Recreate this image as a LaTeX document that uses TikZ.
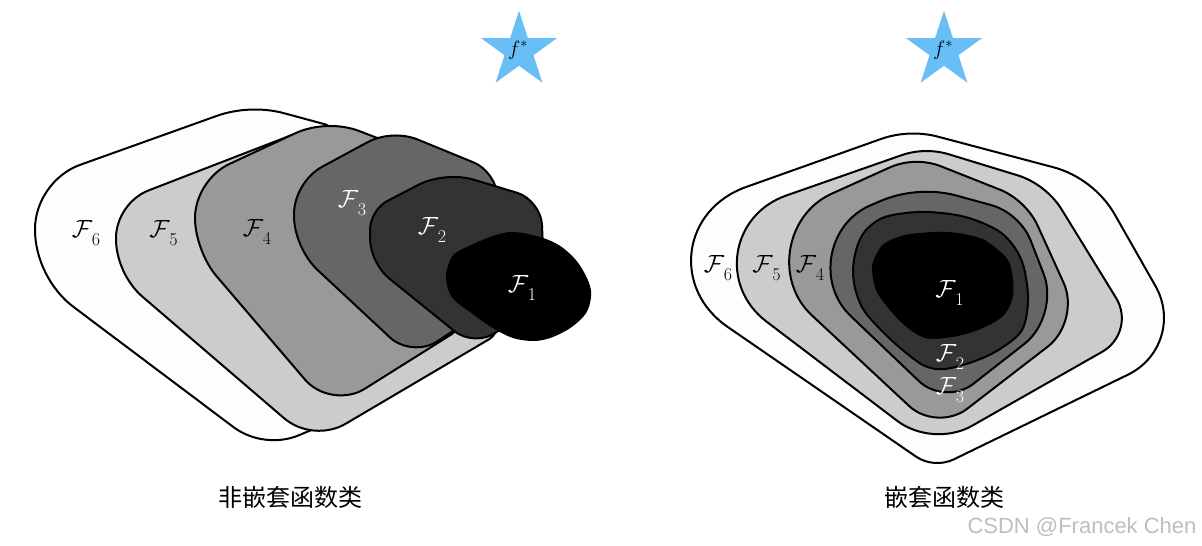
\documentclass[tikz,border=0pt]{standalone}
\usepackage{fontspec}
\newfontfamily\cjk{Noto Sans CJK SC}
\newfontfamily\wmfont{Liberation Sans}
\usetikzlibrary{calc}
\definecolor{c6}{HTML}{FDFDFD}
\definecolor{c5}{HTML}{CCCCCC}
\definecolor{c4}{HTML}{999999}
\definecolor{c3}{HTML}{666666}
\definecolor{c2}{HTML}{333333}
\definecolor{c1}{HTML}{000000}
\definecolor{starblue}{RGB}{104,190,246}
% rounded corner at #2 (prev #1, next #3), inset #4, control distance factor #5
\newcommand\rcorner[5]{-- ($(#2)!#4pt!(#1)$) .. controls ($(#2)!#4*#5pt!(#1)$) and ($(#2)!#4*#5pt!(#3)$) .. ($(#2)!#4pt!(#3)$)}
\newcommand\Fl[1]{$\mathcal{F}$\kern-0.5pt\raisebox{-8pt}{\fontsize{18}{18}\selectfont #1}}
\tikzset{
  region/.style={draw=black, line width=2pt, line join=round},
  lab/.style={font=\fontsize{24}{28}\selectfont, inner sep=0pt},
  fstar/.style={font=\fontsize{22}{26}\selectfont, inner sep=0pt},
  caption/.style={font=\cjk\fontsize{24}{28}\selectfont, inner sep=0pt},
  starshape/.style={fill=starblue, draw=none},
}
\begin{document}
\begin{tikzpicture}[x=1pt,y=-1pt]
\fill[white] (0,0) rectangle (1202,546);
\useasboundingbox (0,0) rectangle (1202,546);

% ---------------- left: non-nested ----------------
% F6
\coordinate (a1) at (250,104); \coordinate (a2) at (335,127); \coordinate (a3) at (335,420);
\coordinate (a4) at (264,450); \coordinate (a5) at (35,278); \coordinate (a6) at (35,181);
\draw[region,fill=c6] ($(a6)!0.5!(a1)$) \rcorner{a6}{a1}{a2}{35}{0.38} \rcorner{a1}{a2}{a3}{10}{0.45}
  \rcorner{a2}{a3}{a4}{10}{0.45} \rcorner{a3}{a4}{a5}{38}{0.4} \rcorner{a4}{a5}{a6}{48}{0.4}
  \rcorner{a5}{a6}{a1}{48}{0.42} -- cycle;
% F5
\coordinate (b1) at (310,128); \coordinate (b2) at (495,200); \coordinate (b3) at (498,334);
\coordinate (b4) at (313,443); \coordinate (b5) at (116,274); \coordinate (b6) at (116,203);
\draw[region,fill=c5] ($(b6)!0.5!(b1)$) \rcorner{b6}{b1}{b2}{18}{0.4} \rcorner{b1}{b2}{b3}{10}{0.45}
  \rcorner{b2}{b3}{b4}{10}{0.45} \rcorner{b3}{b4}{b5}{38}{0.42} \rcorner{b4}{b5}{b6}{35}{0.4}
  \rcorner{b5}{b6}{b1}{35}{0.42} -- cycle;
% F4
\coordinate (c1) at (327,118.5); \coordinate (c2) at (470,174); \coordinate (c3) at (460,329);
\coordinate (c4) at (331,410); \coordinate (c5) at (195,251); \coordinate (c6) at (195,180);
\draw[region,fill=c4] ($(c6)!0.5!(c1)$) \rcorner{c6}{c1}{c2}{35}{0.4} \rcorner{c1}{c2}{c3}{10}{0.45}
  \rcorner{c2}{c3}{c4}{10}{0.45} \rcorner{c3}{c4}{c5}{40}{0.45} \rcorner{c4}{c5}{c6}{33}{0.42}
  \rcorner{c5}{c6}{c1}{38}{0.42} -- cycle;
% F3
\coordinate (d1) at (392,129); \coordinate (d2) at (497,172); \coordinate (d3) at (500,300);
\coordinate (d4) at (412,358); \coordinate (d5) at (294,248); \coordinate (d6) at (294,182);
\draw[region,fill=c3] ($(d6)!0.5!(d1)$) \rcorner{d6}{d1}{d2}{28}{0.4} \rcorner{d1}{d2}{d3}{25}{0.45}
  \rcorner{d2}{d3}{d4}{10}{0.45} \rcorner{d3}{d4}{d5}{30}{0.45} \rcorner{d4}{d5}{d6}{32}{0.42}
  \rcorner{d5}{d6}{d1}{32}{0.42} -- cycle;
% F2
\coordinate (e1) at (445,171); \coordinate (e2) at (541,200); \coordinate (e3) at (545,300);
\coordinate (e4) at (474,347); \coordinate (e5) at (370,263); \coordinate (e6) at (370,210);
\draw[region,fill=c2] ($(e6)!0.5!(e1)$) \rcorner{e6}{e1}{e2}{30}{0.42} \rcorner{e1}{e2}{e3}{25}{0.45}
  \rcorner{e2}{e3}{e4}{10}{0.45} \rcorner{e3}{e4}{e5}{25}{0.45} \rcorner{e4}{e5}{e6}{25}{0.42}
  \rcorner{e5}{e6}{e1}{20}{0.42} -- cycle;
% F1
\draw[region,fill=c1] plot[smooth cycle, tension=0.55] coordinates {
  (447,277) (453,257) (467,248) (493,237) (513,233) (540,238) (560,247) (577,263)
  (588,283) (590,297) (585,313) (570,327) (550,337) (533,340) (513,337) (493,327)
  (473,313) (453,297)};

\node[lab, text=black] (lF6) at (86,233) {\Fl{6}};
\node[lab, text=black] (lF5) at (163.5,233) {\Fl{5}};
\node[lab, text=black] (lF4) at (257,232) {\Fl{4}};
\node[lab, text=white] (lF3) at (352,203) {\Fl{3}};
\node[lab, text=white] (lF2) at (432,230) {\Fl{2}};
\node[lab, text=white] (lF1) at (522,288) {\Fl{1}};

% ---------------- right: nested ----------------
% F6
\coordinate (p1) at (600,239); \coordinate (p2) at (909,129); \coordinate (p3) at (1094,178);
\coordinate (p4) at (1189,345); \coordinate (p5) at (934,469);
\draw[region,fill=c6] ($(p5)!0.5!(p1)$) \rcorner{p5}{p1}{p2}{155}{0.56} \rcorner{p1}{p2}{p3}{30}{0.36}
  \rcorner{p2}{p3}{p4}{42}{0.38} \rcorner{p3}{p4}{p5}{68}{0.45} \rcorner{p4}{p5}{p1}{22}{0.4} -- cycle;
% F5
\coordinate (q1) at (659,240); \coordinate (q2) at (925,147); \coordinate (q3) at (1046,184);
\coordinate (q4) at (1137,332); \coordinate (q5) at (933,448);
\draw[region,fill=c5] ($(q5)!0.5!(q1)$) \rcorner{q5}{q1}{q2}{135}{0.56} \rcorner{q1}{q2}{q3}{25}{0.36}
  \rcorner{q2}{q3}{q4}{30}{0.38} \rcorner{q3}{q4}{q5}{40}{0.45} \rcorner{q4}{q5}{q1}{45}{0.42} -- cycle;
% F4
\coordinate (r1) at (730.5,239.5); \coordinate (r2) at (915,156); \coordinate (r3) at (1026,200);
\coordinate (r4) at (1081,321); \coordinate (r5) at (937,432);
\draw[region,fill=c4] ($(r5)!0.5!(r1)$) \rcorner{r5}{r1}{r2}{111}{0.54} \rcorner{r1}{r2}{r3}{28}{0.38}
  \rcorner{r2}{r3}{r4}{28}{0.4} \rcorner{r3}{r4}{r5}{42}{0.45} \rcorner{r4}{r5}{r1}{38}{0.45} -- cycle;
% F3
\coordinate (s1) at (776.7,245.4); \coordinate (s2) at (918,185); \coordinate (s3) at (1020,213);
\coordinate (s4) at (1060,316); \coordinate (s5) at (945,406);
\draw[region,fill=c3] ($(s5)!0.5!(s1)$) \rcorner{s5}{s1}{s2}{102}{0.54} \rcorner{s1}{s2}{s3}{40}{0.38}
  \rcorner{s2}{s3}{s4}{30}{0.4} \rcorner{s3}{s4}{s5}{45}{0.45} \rcorner{s4}{s5}{s1}{36}{0.45} -- cycle;
% F2
\draw[region,fill=c2] plot[smooth cycle, tension=0.55] coordinates {
  (853,270) (857,247) (866,230) (885,217) (918,212) (950,214) (975,220) (1000,232)
  (1015,248) (1024,268) (1028,300) (1022,330) (1000,349) (975,361) (945,369) (925,366)
  (905,352) (885,334) (865,312) (856,292)};
% F1
\fill[c1] plot[smooth cycle, tension=0.55] coordinates {
  (872,267) (877,253) (885,243) (905,235) (935,232) (958,233) (980,238) (992,245)
  (1008,260) (1013,280) (1012,300) (1002,317) (978,330) (952,337) (925,338) (902,323)
  (882,300) (875,287)};

\node[lab, text=black] (rF6) at (718,268) {\Fl{6}};
\node[lab, text=black] (rF5) at (766.5,268) {\Fl{5}};
\node[lab, text=black] (rF4) at (810,268) {\Fl{4}};
\node[lab, text=white] (rF1) at (949.5,292.5) {\Fl{1}};
\node[lab, text=white] (rF2) at (950,357) {\Fl{2}};
\node[lab, text=white] (rF3) at (950,390) {\Fl{3}};

% ---------------- stars ----------------
\begin{scope}[shift={(519,50.5)}]
\fill[starshape] (270:39.8) -- (306:15.2) -- (342:39.8) -- (18:15.2) -- (54:39.8) -- (90:15.2)
  -- (126:39.8) -- (162:15.2) -- (198:39.8) -- (234:15.2) -- cycle;
\end{scope}
\begin{scope}[shift={(944,50.5)}]
\fill[starshape] (270:39.8) -- (306:15.2) -- (342:39.8) -- (18:15.2) -- (54:39.8) -- (90:15.2)
  -- (126:39.8) -- (162:15.2) -- (198:39.8) -- (234:15.2) -- cycle;
\end{scope}
\node[fstar] (fL) at (518,50) {$f^{*}$};
\node[fstar] (fR) at (943,50) {$f^{*}$};

% ---------------- captions ----------------
\node[caption] (capL) at (290,497) {非嵌套函数类};
\node[caption] (capR) at (944,497) {嵌套函数类};
\node[font=\wmfont\fontsize{22}{26}\selectfont, text=black!25, inner sep=0pt] (wm) at (1082,527) {CSDN @Francek Chen};
\end{tikzpicture}
\end{document}
